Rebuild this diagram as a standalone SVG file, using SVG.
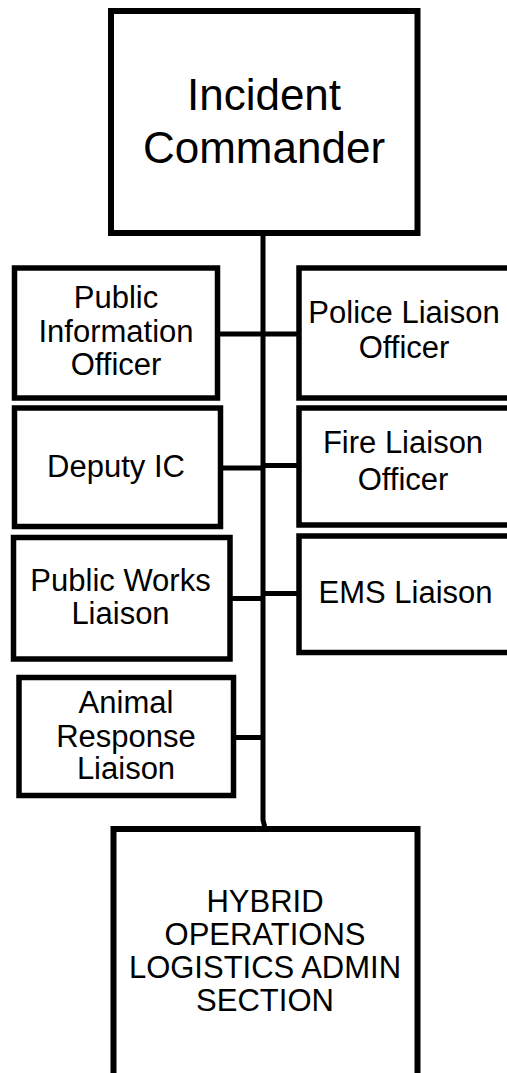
<svg xmlns="http://www.w3.org/2000/svg" width="507" height="1073" viewBox="0 0 507 1073">
<style>
.box{fill:#fff;stroke:#000;stroke-width:5.5}
.big{stroke-width:6}
.t{font-family:"Liberation Sans",Arial,sans-serif;font-size:31px;fill:#000;text-anchor:middle}
.tl{font-size:44px}
.c{fill:none;stroke:#000;stroke-width:5}
</style>
<rect width="507" height="1073" fill="#fff"/>
<g id="connectors">
<path class="c" d="M263 233 V820 L264.5 826 V829" stroke-width="6"/>
<path class="c" d="M217.5 334 H263 M263 334 H299"/>
<path class="c" d="M220.5 468 H263 M263 465.5 H299"/>
<path class="c" d="M230 598.5 H263 M263 593.5 H299"/>
<path class="c" d="M233.5 737.5 H263"/>
</g>
<g id="incident-commander">
<rect class="box big" x="111" y="11" width="306.5" height="222"/>
<text class="t tl" x="264" y="110">Incident</text>
<text class="t tl" x="264" y="163">Commander</text>
</g>
<g id="public-information-officer">
<rect class="box" x="14.5" y="268" width="203" height="130"/>
<text class="t" x="116" y="308">Public</text>
<text class="t" x="116" y="342">Information</text>
<text class="t" x="116" y="375">Officer</text>
</g>
<g id="police-liaison-officer">
<rect class="box" x="299" y="268" width="230" height="130"/>
<text class="t" x="404" y="323">Police Liaison</text>
<text class="t" x="404" y="358">Officer</text>
</g>
<g id="deputy-ic">
<rect class="box" x="14.5" y="408" width="206" height="118.5"/>
<text class="t" x="116" y="477">Deputy IC</text>
</g>
<g id="fire-liaison-officer">
<rect class="box" x="299" y="408" width="230" height="117"/>
<text class="t" x="403" y="453">Fire Liaison</text>
<text class="t" x="403" y="490">Officer</text>
</g>
<g id="public-works-liaison">
<rect class="box" x="13.5" y="537.5" width="216.5" height="121.5"/>
<text class="t" x="120.5" y="591">Public Works</text>
<text class="t" x="120.5" y="624">Liaison</text>
</g>
<g id="ems-liaison">
<rect class="box" x="299" y="536" width="230" height="116.5"/>
<text class="t" x="405.5" y="603">EMS Liaison</text>
</g>
<g id="animal-response-liaison">
<rect class="box" x="19" y="677.5" width="214.5" height="118"/>
<text class="t" x="126" y="713">Animal</text>
<text class="t" x="126" y="747">Response</text>
<text class="t" x="126" y="779">Liaison</text>
</g>
<g id="hybrid-section">
<rect class="box big" x="113.5" y="829" width="304" height="270"/>
<text class="t" x="265" y="912">HYBRID</text>
<text class="t" x="265" y="945">OPERATIONS</text>
<text class="t" x="265" y="978">LOGISTICS ADMIN</text>
<text class="t" x="265" y="1011">SECTION</text>
</g>
</svg>
